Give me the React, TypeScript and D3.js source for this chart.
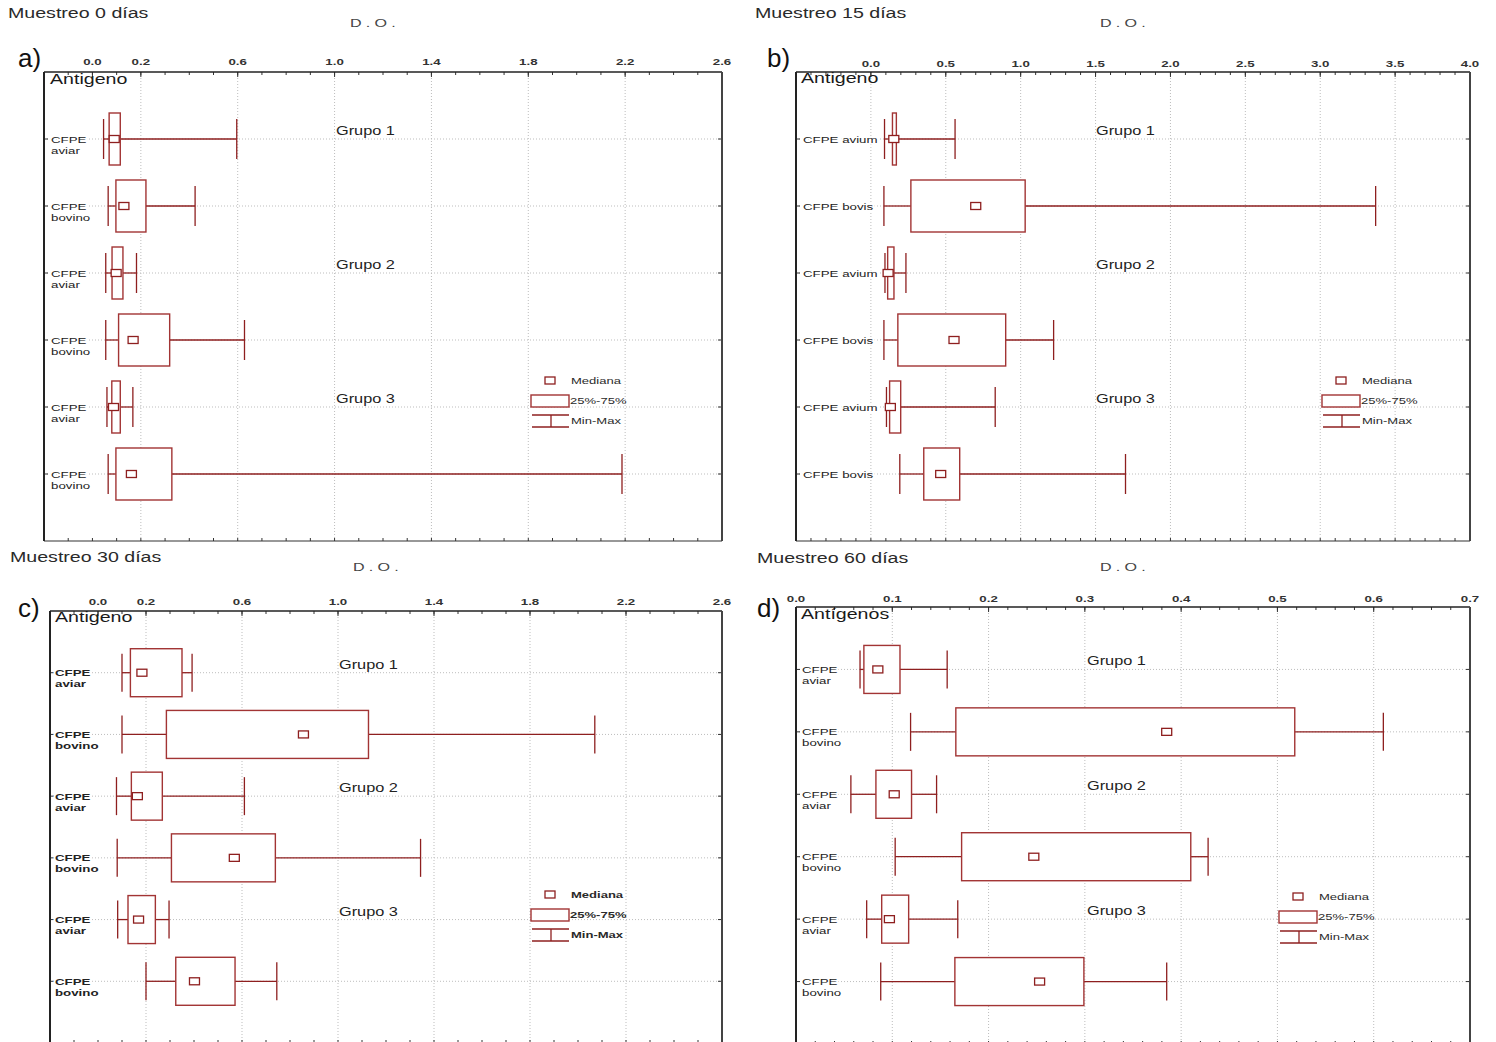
import React from "react";
import * as d3 from "d3";

// ---- Data: optical density (D.O.) summaries per antigen row ----
const labelsA = ["CFPE\naviar", "CFPE\nbovino", "CFPE\naviar", "CFPE\nbovino", "CFPE\naviar", "CFPE\nbovino"];
const minA = [0.046, 0.065, 0.055, 0.055, 0.06, 0.065];
const q1A = [0.069, 0.097, 0.081, 0.108, 0.08, 0.097];
const medA = [0.09, 0.13, 0.098, 0.168, 0.087, 0.161];
const q3A = [0.115, 0.221, 0.126, 0.319, 0.115, 0.328];
const maxA = [0.596, 0.424, 0.182, 0.628, 0.167, 2.187];

const labelsB = ["CFPE avium", "CFPE bovis", "CFPE avium", "CFPE bovis", "CFPE avium", "CFPE bovis"];
const minB = [0.091, 0.087, 0.094, 0.087, 0.104, 0.193];
const q1B = [0.144, 0.267, 0.112, 0.18, 0.125, 0.353];
const medB = [0.153, 0.7, 0.115, 0.555, 0.13, 0.466];
const q3B = [0.17, 1.03, 0.154, 0.9, 0.199, 0.593];
const maxB = [0.562, 3.37, 0.234, 1.22, 0.83, 1.7];

const labelsC = ["CFPE\naviar", "CFPE\nbovino", "CFPE\naviar", "CFPE\nbovino", "CFPE\naviar", "CFPE\nbovino"];
const minC = [0.1, 0.1, 0.077, 0.08, 0.082, 0.2];
const q1C = [0.135, 0.285, 0.139, 0.306, 0.125, 0.324];
const medC = [0.183, 0.856, 0.164, 0.568, 0.169, 0.402];
const q3C = [0.35, 1.127, 0.268, 0.739, 0.239, 0.571];
const maxC = [0.392, 2.07, 0.61, 1.344, 0.296, 0.745];

const labelsD = ["CFPE\naviar", "CFPE\nbovino", "CFPE\naviar", "CFPE\nbovino", "CFPE\naviar", "CFPE\nbovino"];
const minD = [0.0665, 0.119, 0.057, 0.103, 0.0734, 0.088];
const q1D = [0.0705, 0.166, 0.083, 0.172, 0.089, 0.165];
const medD = [0.085, 0.385, 0.102, 0.247, 0.097, 0.253];
const q3D = [0.108, 0.518, 0.12, 0.41, 0.117, 0.299];
const maxD = [0.157, 0.61, 0.146, 0.428, 0.168, 0.385];

const groupLabels = ["Grupo 1", "Grupo 2", "Grupo 3"];
const legendLabels = ["Mediana", "25%-75%", "Min-Max"];

const ticksA = [0, 0.2, 0.6, 1.0, 1.4, 1.8, 2.2, 2.6];
const gridA = [0.2, 0.6, 1.0, 1.4, 1.8, 2.2];
const ticksB = [0, 0.5, 1.0, 1.5, 2.0, 2.5, 3.0, 3.5, 4.0];
const gridB = [0, 0.5, 1.0, 1.5, 2.0, 2.5, 3.0, 3.5];
const ticksD = [0, 0.1, 0.2, 0.3, 0.4, 0.5, 0.6, 0.7];
const gridD = [0.1, 0.2, 0.3, 0.4, 0.5, 0.6];

const FONT = "'Liberation Sans', Arial, Helvetica, sans-serif";
const RED = "#8e1f1f";
const BOXC = "#a23434";
const TXT = "#2a2a2a";

type Cfg = {
  title: string;
  letter: string;
  axisTitle: string;
  antigen: string;
  labels: string[];
  mins: number[];
  q1: number[];
  med: number[];
  q3: number[];
  maxs: number[];
  domain: [number, number];
  ticks: number[];
  grid: number[];
  minorStep: number;
  left: number;
  right: number;
  top: number;
  bottom: number;
  tickLabelY: number;
  labelX: number;
  boldLabels: boolean;
  groupX: number;
  legendX: number;
  legendY: number;
  titleX: number;
  titleY: number;
  doX: number;
  doY: number;
  letterX: number;
  letterY: number;
  antigenX: number;
  antigenY: number;
  boxHalf: number;
  capHalf: number;
};

// Horizontally stretched text, the way the plot's fonts are rendered
function STxt(props: {
  x: number;
  y: number;
  size: number;
  children: React.ReactNode;
  sx?: number;
  weight?: string | number;
  anchor?: "start" | "middle" | "end";
  fill?: string;
  ls?: number;
  halo?: boolean;
}) {
  const { x, y, size, children, sx = 1.4, weight = "normal", anchor = "start", fill = TXT, ls = 0, halo = false } = props;
  return (
    <text
      transform={`translate(${x},${y}) scale(${sx},1)`}
      fontFamily={FONT}
      fontSize={size}
      fontWeight={weight}
      textAnchor={anchor}
      fill={fill}
      letterSpacing={ls}
      stroke={halo ? "#fff" : "none"}
      strokeWidth={halo ? 3 : 0}
      paintOrder="stroke"
    >
      {children}
    </text>
  );
}

function BoxPanel({ c }: { c: Cfg }) {
  const x = d3.scaleLinear().domain(c.domain).range([c.left, c.right]);
  const idx = d3.range(c.labels.length);
  const y = d3.scalePoint<number>().domain(idx).range([c.top, c.bottom]).padding(1);
  const nMinor = Math.round((c.domain[1] - c.domain[0]) / c.minorStep);
  const minor = d3.range(nMinor + 1).map((i) => c.domain[0] + i * c.minorStep);
  const fmt = d3.format(".1f");
  const w = c.boldLabels ? "bold" : "normal";

  return (
    <g>
      {/* titles */}
      <STxt x={c.titleX} y={c.titleY} size={14}>{c.title}</STxt>
      <STxt x={c.doX} y={c.doY} size={11.5} ls={3} fill="#444">{c.axisTitle}</STxt>
      <STxt x={c.letterX} y={c.letterY} size={26} sx={1} fill="#111">{c.letter}</STxt>

      {/* vertical dotted grid */}
      {c.grid.map((v) => (
        <line key={"g" + v} x1={x(v)} x2={x(v)} y1={c.top} y2={c.bottom} stroke="#bdbdbd" strokeWidth={1} strokeDasharray="1,2" />
      ))}
      {/* horizontal dotted grid at each row */}
      {idx.map((i) => (
        <line key={"h" + i} x1={c.left} x2={c.right} y1={y(i)!} y2={y(i)!} stroke="#bdbdbd" strokeWidth={1} strokeDasharray="1,2" />
      ))}

      {/* top / bottom ticks */}
      {minor.map((v, i) => (
        <g key={"m" + i}>
          <line x1={x(v)} x2={x(v)} y1={c.top} y2={c.top + 3} stroke="#333" strokeWidth={1} />
          <line x1={x(v)} x2={x(v)} y1={c.bottom} y2={c.bottom - 3} stroke="#333" strokeWidth={1} />
        </g>
      ))}
      {c.ticks.map((v) => (
        <g key={"t" + v}>
          <line x1={x(v)} x2={x(v)} y1={c.top} y2={c.top + 5} stroke="#333" strokeWidth={1} />
          <STxt x={x(v)} y={c.tickLabelY} size={9.5} weight="bold" anchor="middle" sx={1.4} fill="#333">
            {fmt(v)}
          </STxt>
        </g>
      ))}

      {/* row ticks on both sides */}
      {idx.map((i) => (
        <g key={"rt" + i}>
          <line x1={c.left} x2={c.left + 4} y1={y(i)!} y2={y(i)!} stroke="#333" strokeWidth={1} />
          <line x1={c.right} x2={c.right - 4} y1={y(i)!} y2={y(i)!} stroke="#333" strokeWidth={1} />
        </g>
      ))}

      {/* frame */}
      <line x1={c.left} x2={c.right} y1={c.top} y2={c.top} stroke="#222" strokeWidth={1.5} />
      <line x1={c.left} x2={c.right} y1={c.bottom} y2={c.bottom} stroke="#333" strokeWidth={1.2} />
      <line x1={c.left} x2={c.left} y1={c.top} y2={c.bottom} stroke="#222" strokeWidth={2} />
      <line x1={c.right} x2={c.right} y1={c.top} y2={c.bottom} stroke="#444" strokeWidth={2} />

      <STxt x={c.antigenX} y={c.antigenY} size={14} fill="#1a1a1a">{c.antigen}</STxt>

      {/* row labels */}
      {c.labels.map((lab, i) => {
        const lines = lab.split("\n");
        return (
          <g key={"l" + i}>
            {lines.map((ln, k) => (
              <STxt key={k} x={c.labelX} y={y(i)! + 3.5 + k * 11} size={9.5} weight={w} halo fill="#222">
                {ln}
              </STxt>
            ))}
          </g>
        );
      })}

      {/* group labels */}
      {groupLabels.map((g, k) => (
        <STxt key={g} x={c.groupX} y={y(k * 2)! - 4} size={12} sx={1.36} fill="#222">
          {g}
        </STxt>
      ))}

      {/* boxes */}
      {idx.map((i) => {
        const yc = y(i)!;
        return (
          <g key={"b" + i} fill="none">
            <line x1={x(c.mins[i])} x2={x(c.q1[i])} y1={yc} y2={yc} stroke={RED} strokeWidth={1.3} />
            <line x1={x(c.q3[i])} x2={x(c.maxs[i])} y1={yc} y2={yc} stroke={RED} strokeWidth={1.3} />
            <line x1={x(c.mins[i])} x2={x(c.mins[i])} y1={yc - c.capHalf} y2={yc + c.capHalf} stroke={RED} strokeWidth={1.3} />
            <line x1={x(c.maxs[i])} x2={x(c.maxs[i])} y1={yc - c.capHalf} y2={yc + c.capHalf} stroke={RED} strokeWidth={1.3} />
            <rect
              x={x(c.q1[i])}
              y={yc - c.boxHalf}
              width={x(c.q3[i]) - x(c.q1[i])}
              height={c.boxHalf * 2}
              fill="#fff"
              stroke={BOXC}
              strokeWidth={1.4}
            />
            <rect x={x(c.med[i]) - 5} y={yc - 3.5} width={10} height={7} fill="#fff" stroke={RED} strokeWidth={1.3} />
          </g>
        );
      })}

      {/* legend */}
      <g fill="none">
        <rect x={c.legendX + 14} y={c.legendY} width={10} height={7} fill="#fff" stroke={RED} strokeWidth={1.3} />
        <rect x={c.legendX} y={c.legendY + 18} width={38} height={12} fill="#fff" stroke={BOXC} strokeWidth={1.4} />
        <line x1={c.legendX + 1} x2={c.legendX + 38} y1={c.legendY + 38} y2={c.legendY + 38} stroke={RED} strokeWidth={1.3} />
        <line x1={c.legendX + 1} x2={c.legendX + 38} y1={c.legendY + 50} y2={c.legendY + 50} stroke={RED} strokeWidth={1.3} />
        <line x1={c.legendX + 20} x2={c.legendX + 20} y1={c.legendY + 38} y2={c.legendY + 50} stroke={RED} strokeWidth={1.3} />
      </g>
      <STxt x={c.legendX + 40} y={c.legendY + 6.5} size={9} weight={w} sx={1.45}>{legendLabels[0]}</STxt>
      <STxt x={c.legendX + 39} y={c.legendY + 27} size={9} weight={w} sx={1.45}>{legendLabels[1]}</STxt>
      <STxt x={c.legendX + 40} y={c.legendY + 47} size={9} weight={w} sx={1.45}>{legendLabels[2]}</STxt>
    </g>
  );
}

const panelA: Cfg = {
  title: "Muestreo 0 días", letter: "a)", axisTitle: "D.O.", antigen: "Antigeno",
  labels: labelsA, mins: minA, q1: q1A, med: medA, q3: q3A, maxs: maxA,
  domain: [-0.2, 2.6], ticks: ticksA, grid: gridA, minorStep: 0.1,
  left: 44, right: 722, top: 72, bottom: 541, tickLabelY: 65,
  labelX: 51, boldLabels: false, groupX: 336, legendX: 531, legendY: 377,
  titleX: 8, titleY: 18, doX: 350, doY: 27, letterX: 18, letterY: 67,
  antigenX: 50, antigenY: 84, boxHalf: 26, capHalf: 20,
};

const panelB: Cfg = {
  title: "Muestreo 15 días", letter: "b)", axisTitle: "D.O.", antigen: "Antigeno",
  labels: labelsB, mins: minB, q1: q1B, med: medB, q3: q3B, maxs: maxB,
  domain: [-0.5, 4.0], ticks: ticksB, grid: gridB, minorStep: 0.1,
  left: 796, right: 1470, top: 72, bottom: 541, tickLabelY: 67,
  labelX: 803, boldLabels: false, groupX: 1096, legendX: 1322, legendY: 377,
  titleX: 755, titleY: 18, doX: 1100, doY: 27, letterX: 767, letterY: 67,
  antigenX: 801, antigenY: 83, boxHalf: 26, capHalf: 20,
};

const panelC: Cfg = {
  title: "Muestreo 30 días", letter: "c)", axisTitle: "D.O.", antigen: "Antigeno",
  labels: labelsC, mins: minC, q1: q1C, med: medC, q3: q3C, maxs: maxC,
  domain: [-0.2, 2.6], ticks: ticksA, grid: gridA, minorStep: 0.1,
  left: 50, right: 722, top: 611, bottom: 1043, tickLabelY: 605,
  labelX: 55, boldLabels: true, groupX: 339, legendX: 531, legendY: 891,
  titleX: 10, titleY: 562, doX: 353, doY: 571, letterX: 18, letterY: 617,
  antigenX: 55, antigenY: 622, boxHalf: 24, capHalf: 19,
};

const panelD: Cfg = {
  title: "Muestreo 60 días", letter: "d)", axisTitle: "D.O.", antigen: "Antígenos",
  labels: labelsD, mins: minD, q1: q1D, med: medD, q3: q3D, maxs: maxD,
  domain: [0, 0.7], ticks: ticksD, grid: gridD, minorStep: 0.02,
  left: 796, right: 1470, top: 607, bottom: 1044, tickLabelY: 602,
  labelX: 802, boldLabels: false, groupX: 1087, legendX: 1279, legendY: 893,
  titleX: 757, titleY: 563, doX: 1100, doY: 571, letterX: 757, letterY: 617,
  antigenX: 801, antigenY: 619, boxHalf: 24, capHalf: 19,
};

export default function App() {
  return (
    <div style={{ position: "absolute", left: 0, top: 0, width: 1496, height: 1042, background: "#fff" }}>
      <svg width={1496} height={1042} viewBox="0 0 1496 1042" style={{ display: "block" }}>
        <rect width={1496} height={1042} fill="#fff" />
        <BoxPanel c={panelA} />
        <BoxPanel c={panelB} />
        <BoxPanel c={panelC} />
        <BoxPanel c={panelD} />
      </svg>
    </div>
  );
}
